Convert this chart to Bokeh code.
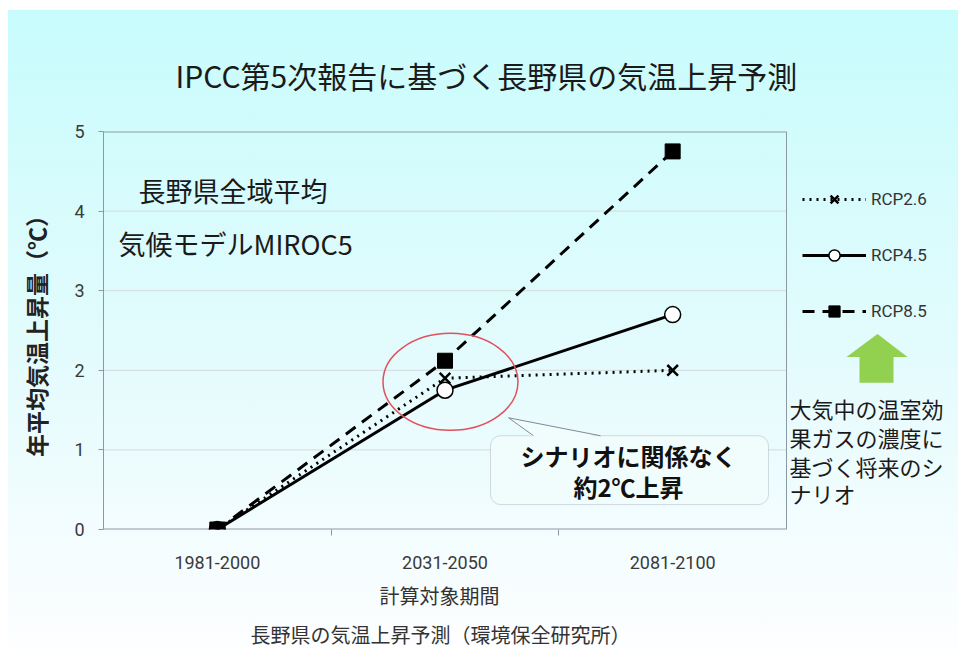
from bokeh.plotting import figure
from bokeh.models import (Range1d, FixedTicker, Legend, LegendItem, Title,
                          Label, BoxAnnotation, PolyAnnotation, Arrow)
from bokeh.embed import file_html
from bokeh.resources import INLINE

# ---- data ----
periods = ["1981-2000", "2031-2050", "2081-2100"]
rcp26 = [0.0, 1.9, 2.0]
rcp45 = [0.0, 1.75, 2.7]
rcp85 = [0.0, 2.12, 4.75]
y_ticks = [0, 1, 2, 3, 4, 5]
series_names = ["RCP2.6", "RCP4.5", "RCP8.5"]

title_text = "IPCC第5次報告に基づく長野県の気温上昇予測"
x_label = "計算対象期間"
y_label = "年平均気温上昇量（℃）"
caption = "長野県の気温上昇予測（環境保全研究所）"
note_lines = ["長野県全域平均", "気候モデルMIROC5"]
callout_lines = ["シナリオに関係なく", "約2℃上昇"]
side_lines = ["大気中の温室効", "果ガスの濃度に", "基づく将来のシ", "ナリオ"]

JP = "Noto Sans CJK JP"
GRAY = "#8a99a4"
GRID = "#d3dadd"

n = len(periods)
x_pos = [i + 0.5 for i in range(n)]          # category centres
x_bounds = list(range(1, n))                  # category boundaries (tick marks)
ymax = y_ticks[-1]

# plot-area geometry in pixels (used only to place decorations)
FL, FR, FT, FB = 103, 786, 131, 530
def sx(px):
    return (px - FL) / (FR - FL) * n
def sy(py):
    return (FB - py) / (FB - FT) * ymax

p = figure(width=958, height=648, x_range=Range1d(0, sx(958)), y_range=Range1d(0, ymax),
           output_backend="svg", toolbar_location=None,
           min_border_left=FL, min_border_right=0, min_border_top=FT, min_border_bottom=648 - FB)
p.border_fill_color = None
p.background_fill_color = None
p.outline_line_color = None
p.styles = {"background": "linear-gradient(to bottom, #c8fcfc 0%, #e4fbfd 55%, #fdfeff 100%) no-repeat 8px 10px / 950px 638px, #ffffff"}

# title
p.title = Title(text=title_text, align="left", offset=72, standoff=69, text_font=JP,
                text_font_size="30px", text_font_style="normal", text_color="#1a1a1a")

# grid / plot-area border drawn only over the chart area
p.xgrid.visible = False
p.ygrid.visible = False
inner = y_ticks[1:-1]
p.segment(x0=[0] * len(inner), x1=[n] * len(inner), y0=inner, y1=inner, line_color=GRID, line_width=1)
p.segment(x0=[0, 0, n], x1=[n, n, n], y0=[ymax, 0, 0], y1=[ymax, 0, ymax],
          line_color=GRAY, line_width=[2, 2, 1])

# y axis
ya = p.yaxis[0]
ya.ticker = FixedTicker(ticks=y_ticks)
ya.axis_line_color = GRAY
ya.major_tick_line_color = GRAY
ya.major_tick_out = 5
ya.major_tick_in = 0
ya.minor_tick_line_color = None
ya.major_label_standoff = 14
ya.major_label_text_font = "Roboto"
ya.major_label_text_font_size = "18px"
ya.major_label_text_color = "#3a3a3a"
ya.axis_label = y_label
ya.axis_label_text_font = JP
ya.axis_label_text_font_size = "23px"
ya.axis_label_text_font_style = "bold"
ya.axis_label_text_color = "#222222"
ya.axis_label_standoff = 18

# x axis: labels at category centres, tick marks at boundaries
xa = p.xaxis[0]
xa.ticker = FixedTicker(ticks=x_pos, minor_ticks=x_bounds)
xa.major_label_overrides = {x: lab for x, lab in zip(x_pos, periods)}
xa.axis_line_color = None
xa.major_tick_line_color = None
xa.major_tick_out = 6
xa.minor_tick_line_color = GRAY
xa.minor_tick_out = 6
xa.minor_tick_in = 0
xa.major_label_standoff = 20
xa.major_label_text_font = "Roboto"
xa.major_label_text_font_size = "18px"
xa.major_label_text_color = "#3a3a3a"
p.add_layout(Title(text=x_label, align="left", offset=276, standoff=15, text_font=JP,
                   text_font_size="20px", text_font_style="normal", text_color="#333333"), "below")
p.add_layout(Title(text=caption, align="left", offset=147, standoff=0, text_font=JP,
                   text_font_size="20px", text_font_style="normal", text_color="#333333"), "below")

# ---- series ----
l85 = p.line(x_pos, rcp85, line_color="black", line_width=3, line_dash="12 8")
l26 = p.line(x_pos, rcp26, line_color="black", line_width=3, line_dash="2 5")
l45 = p.line(x_pos, rcp45, line_color="black", line_width=3)
m45 = p.scatter(x_pos, rcp45, marker="circle", size=16, fill_color="white", line_color="black", line_width=1.5)
m26 = p.scatter(x_pos, rcp26, marker="x", size=15, line_color="black", line_width=2.5)
m85 = p.scatter(x_pos, rcp85, marker="square", size=15, fill_color="black", line_color="black")

# red ellipse
p.ellipse(x=[sx(450)], y=[sy(382)], width=135, height=97, width_units="screen", height_units="screen",
          fill_color=None, line_color="#e2505c", line_width=1.5)

# legend (to the right of the plot area)
legend = Legend(items=[LegendItem(label=series_names[0], renderers=[l26, m26]),
                       LegendItem(label=series_names[1], renderers=[l45, m45]),
                       LegendItem(label=series_names[2], renderers=[l85, m85])],
                location=(802 - FL, FB - 326), glyph_width=64, glyph_height=28, spacing=28,
                label_standoff=5, padding=0, margin=0, border_line_color=None,
                background_fill_alpha=0, label_text_font="Roboto", label_text_font_size="17px",
                label_text_color="#333333")
p.add_layout(legend)

# callout box
box_fill = "#f1fcfd"
p.add_layout(BoxAnnotation(left=sx(490), right=sx(768), top=sy(436), bottom=sy(505),
                           fill_color=box_fill, fill_alpha=1, line_color="#7d8b98", line_width=1,
                           border_radius=10))
p.add_layout(PolyAnnotation(xs=[sx(533), sx(508), sx(600)], ys=[sy(437.5), sy(418), sy(437.5)],
                            fill_color=box_fill, fill_alpha=1, line_color=None))
p.add_layout(Arrow(x_start=sx(533), y_start=sy(436), x_end=sx(508), y_end=sy(418), end=None,
                   line_color="#7d8b98", line_width=1))
p.add_layout(Arrow(x_start=sx(508), y_start=sy(418), x_end=sx(600), y_end=sy(436), end=None,
                   line_color="#7d8b98", line_width=1))
for txt, py in zip(callout_lines, [456, 487]):
    p.add_layout(Label(x=sx(628), y=sy(py), text=txt, text_align="center", text_baseline="middle",
                       text_font=JP, text_font_size="24px", text_font_style="bold", text_color="#111111"))

# notes inside plot
p.add_layout(Label(x=sx(138), y=sy(190), text=note_lines[0], text_align="left", text_baseline="middle",
                   text_font=JP, text_font_size="27px", text_color="#1a1a1a"))
p.add_layout(Label(x=sx(118), y=sy(243), text=note_lines[1], text_align="left", text_baseline="middle",
                   text_font=JP, text_font_size="27px", text_color="#1a1a1a"))

# green arrow and side note
p.add_layout(PolyAnnotation(xs=[sx(877), sx(907), sx(893), sx(893), sx(859), sx(859), sx(846)],
                            ys=[sy(334), sy(357), sy(357), sy(383), sy(383), sy(357), sy(357)],
                            fill_color="#92d050", fill_alpha=1, line_color=None))
for txt, py in zip(side_lines, [408, 437, 466, 493]):
    p.add_layout(Label(x=sx(789), y=sy(py), text=txt, text_align="left", text_baseline="middle",
                       text_font=JP, text_font_size="22px", text_color="#1a1a1a"))

open("out.html", "w").write(file_html(p, INLINE))
